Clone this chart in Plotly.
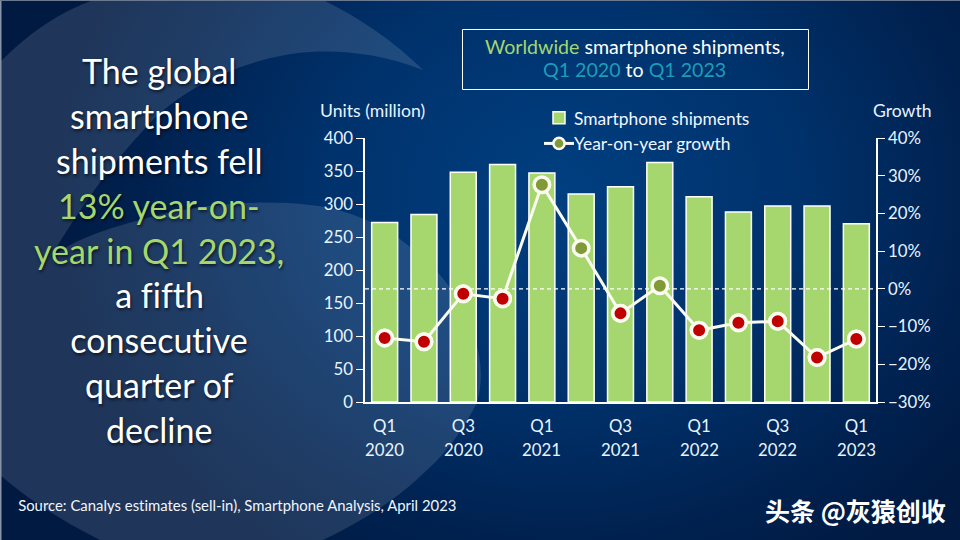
import base64
import plotly.graph_objects as go

quarters = ["Q1 2020","Q2 2020","Q3 2020","Q4 2020","Q1 2021","Q2 2021","Q3 2021","Q4 2021","Q1 2022","Q2 2022","Q3 2022","Q4 2022","Q1 2023"]
shipments = [272,284,348,360,347,315,326,363,311,288,297,297,270]
growth = [-13,-14,-1.3,-2.6,27.6,10.8,-6.5,0.8,-11,-9,-8.6,-18.2,-13.3]
tick_q = ["Q1","Q3","Q1","Q3","Q1","Q3","Q1"]
tick_year = ["2020","2020","2021","2021","2022","2022","2023"]
tick_idx = [0,2,4,6,8,10,12]
left_lines = [("The global","#ffffff"),("smartphone","#ffffff"),("shipments fell","#ffffff"),
              ("13% year-on-","#a5d76e"),("year in Q1 2023,","#a5d76e"),("a fifth","#ffffff"),
              ("consecutive","#ffffff"),("quarter of","#ffffff"),("decline","#ffffff")]

W, H = 960, 540
L, R, T, B = 365, 876, 138, 402
FONT = "Lato, Carlito, Calibri, sans-serif"
GREEN, BLUE = "#a5d76e", "#1f9cb8"

svg = f'''<svg xmlns="http://www.w3.org/2000/svg" width="{W}" height="{H}" viewBox="0 0 {W} {H}">
<defs><radialGradient id="g" gradientUnits="userSpaceOnUse" cx="560" cy="190" r="520" gradientTransform="translate(560 190) scale(1 .85) translate(-560 -190)">
<stop offset="0" stop-color="#003f80"/><stop offset=".45" stop-color="#00326c"/><stop offset=".8" stop-color="#00214f"/><stop offset="1" stop-color="#001a42"/></radialGradient></defs>
<rect width="{W}" height="{H}" fill="url(#g)"/>
<path d="M0,62 C30,32 60,12 93,0 L323,0 C360,18 395,42 423,70 C385,55 345,50 310,52 C255,55 185,85 150,123 C115,160 85,200 50,258 C80,235 120,225 167,213 C215,203 265,200 310,205 C345,208 385,225 410,247 C435,265 465,300 475,340 C483,365 482,385 477,403 C465,425 450,450 427,470 C400,497 365,520 323,540 L100,540 C60,520 25,497 0,475 Z" fill="#ffffff" fill-opacity=".12"/>
<rect x="0" y="0" width="1.5" height="{H}" fill="#8a94a8"/><rect x="0" y="0" width="{W}" height="1" fill="#6a7890"/>
</svg>'''
bg = "data:image/svg+xml;base64," + base64.b64encode(svg.encode()).decode()

def px(x): return (x - L) / (R - L)
def py(y): return (B - y) / (B - T)
def text(x, y, s, size, color="#ffffff", anchor="center", shadow=None, family=FONT, weight=None):
    f = dict(family=family, size=size, color=color)
    if shadow: f["shadow"] = shadow
    if weight: f["weight"] = weight
    return dict(x=px(x), y=py(y), xref="paper", yref="paper", text=s, showarrow=False,
                xanchor=anchor, yanchor="middle", font=f)

fig = go.Figure()
fig.add_bar(x=list(range(13)), y=shipments, name="Smartphone shipments", width=0.66,
            marker=dict(color=GREEN, line=dict(color="#ffffff", width=1.5)), yaxis="y", hoverinfo="skip")
fig.add_scatter(x=[-0.5, 12.5], y=[0, 0], mode="lines", line=dict(color="#ffffff", width=1.2, dash="4px,3px"),
                yaxis="y2", showlegend=False, hoverinfo="skip")
fig.add_scatter(x=list(range(13)), y=growth, name="Year-on-year growth", mode="lines+markers", yaxis="y2",
                line=dict(color="#fbfaf0", width=3),
                marker=dict(size=15.5, color="#7f9a37", line=dict(color="#fbfaf0", width=3.5)))
neg_x = [i for i, v in enumerate(growth) if v < 0]
neg_y = [v for v in growth if v < 0]
fig.add_scatter(x=neg_x, y=neg_y, mode="markers", yaxis="y2", showlegend=False,
                marker=dict(size=15.5, color="#c00000", line=dict(color="#fbfaf0", width=3.5)))

anns = []
for i, (s, c) in enumerate(left_lines):
    anns.append(text(159, 71 + i * 44.75, s, 34, c, shadow="1px 2px 3px rgba(0,0,0,0.6)"))
anns.append(dict(x=px(635), y=py(46), xref="paper", yref="paper", showarrow=False, xanchor="center", yanchor="middle",
                 text=f'<span style="color:{GREEN}">Worldwide</span> smartphone shipments,',
                 font=dict(family=FONT, size=19.6, color="#ffffff")))
anns.append(dict(x=px(634), y=py(69.5), xref="paper", yref="paper", showarrow=False, xanchor="center", yanchor="middle",
                 text=f'<span style="color:{BLUE}">Q1 2020</span> to <span style="color:{BLUE}">Q1 2023</span>',
                 font=dict(family=FONT, size=19.6, color="#ffffff")))
anns.append(text(318, 110.5, "Units (million)", 17.6, "#e8f4ff", "left"))
anns.append(text(934, 110.5, "Growth", 17.6, "#e8f4ff", "right"))
anns.append(text(16, 505, "Source: Canalys estimates (sell-in), Smartphone Analysis, April 2023", 14.9, "#f0f6ff", "left"))
anns.append(text(763, 510, "头条 @灰猿创收", 25, "#ffffff", "left", family="Noto Sans CJK SC", weight=700))
for i, y in zip(tick_idx, tick_year):
    anns.append(dict(x=i, y=py(449), xref="x", yref="paper", text=y, showarrow=False, xanchor="center", yanchor="middle",
                     font=dict(family=FONT, size=16.8, color="#e8f4ff")))

axis_font = dict(family=FONT, size=16.8, color="#e8f4ff")
fig.update_layout(
    width=W, height=H, margin=dict(l=L, r=W - R, t=T, b=H - B),
    paper_bgcolor="#00265a", plot_bgcolor="rgba(0,0,0,0)", showlegend=True, hovermode=False,
    font=dict(family=FONT, color="#ffffff"),
    images=[dict(source=bg, xref="paper", yref="paper", x=px(0), y=py(0), sizex=W / (R - L), sizey=H / (B - T),
                 xanchor="left", yanchor="top", sizing="stretch", layer="below")],
    xaxis=dict(range=[-0.5, 12.5], tickmode="array", tickvals=tick_idx, ticktext=tick_q, tickfont=axis_font,
               showgrid=False, zeroline=False, showline=True, linecolor="#ffffff", linewidth=1.5,
               ticks="outside", ticklen=8, tickcolor="rgba(0,0,0,0)"),
    yaxis=dict(range=[0, 400], dtick=50, tickfont=axis_font, showgrid=False, zeroline=False, showline=True,
               linecolor="#ffffff", linewidth=1.5, ticks="outside", ticklen=7, tickcolor="#ffffff", tickwidth=1),
    yaxis2=dict(range=[-30, 40], dtick=10, overlaying="y", side="right", anchor="x", tickfont=axis_font, ticksuffix="%",
                showgrid=False, zeroline=False, showline=True, linecolor="#ffffff", linewidth=1.5,
                ticks="outside", ticklen=7, tickcolor="#ffffff", tickwidth=1),
    legend=dict(x=px(539), y=py(100), xanchor="left", yanchor="top", bgcolor="rgba(0,0,0,0)",
                font=dict(family=FONT, size=17.4, color="#f0f6ff"), itemwidth=30, tracegroupgap=0,
                traceorder="normal", itemclick=False, itemdoubleclick=False),
    shapes=[dict(type="rect", xref="paper", yref="paper", x0=px(462.5), x1=px(808.5), y0=py(29.5), y1=py(89.5),
                 line=dict(color="#ffffff", width=1), fillcolor="rgba(0,0,0,0)")],
    annotations=anns,
)
post = """
document.body.style.margin='0';document.documentElement.style.overflow='hidden';
var st=document.createElement('style');st.textContent='text{font-variant-ligatures:none;font-feature-settings:"liga" 0;}';document.head.appendChild(st);
document.querySelectorAll('.legend path.legendbar').forEach(function(p){p.setAttribute('d','M13,7H-13V-7H13Z');});
document.querySelectorAll('.legend path.scatterpts').forEach(function(p){var t=p.getAttribute('transform')||'';p.setAttribute('transform',t+' scale(0.72)');});
document.querySelectorAll('.legend .legendtext').forEach(function(t){t.setAttribute('x','35');});
"""
fig.write_html("out.html", post_script=post, config=dict(displayModeBar=False))
